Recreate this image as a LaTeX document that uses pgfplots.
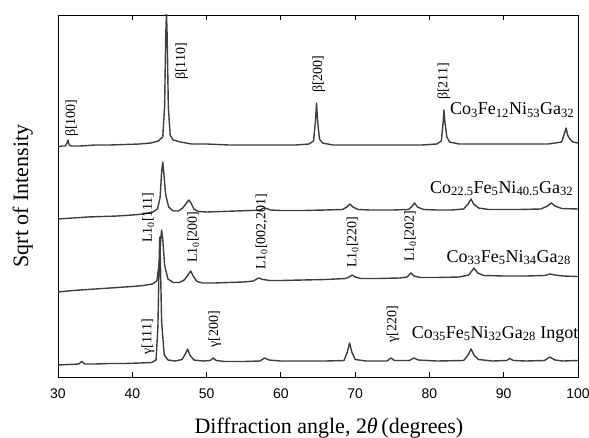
\documentclass[border=0pt]{standalone}
\usepackage{fontspec}
\setmainfont{Liberation Serif}
\newfontfamily\ticksfont{Liberation Sans}
\usepackage{pgfplots}
\pgfplotsset{compat=1.18}
\definecolor{trace}{RGB}{62,62,62}

\begin{document}
\begin{tikzpicture}
\path[use as bounding box] (0,0) rectangle (589pt,437pt);
\begin{axis}[
  at={(58pt,60pt)}, anchor=south west,
  width=520pt, height=362pt, scale only axis,
  xmin=30, xmax=100, ymin=0, ymax=362,
  xtick={30,40,...,100}, ytick=\empty,
  tick align=inside, major tick length=5pt,
  axis line style={line width=0.8pt},
  every tick/.style={black, line width=0.8pt},
  /pgf/number format/assume math mode=true,
  xticklabel style={font=\ticksfont\fontsize{14}{16}\selectfont, anchor=base, yshift=-21pt},
  xlabel={Diffraction angle, 2\textit{θ}\,(degrees)},
  xlabel style={font=\fontsize{22}{24}\selectfont, at={(axis description cs:0.521,0)}, anchor=base, yshift=-56pt},
  ylabel={Sqrt of Intensity},
  ylabel style={font=\fontsize{22}{24}\selectfont, at={(axis description cs:-0.0577,0.5)}, anchor=base},
  no markers,
  every axis plot post/.append style={trace, mark=none, line width=1.4pt, line join=round},
]
% Co3Fe12Ni53Ga32
\addplot coordinates {
(30,230) (30.5,231) (31.0,231) (31.2,234) (31.35,237) (31.5,232) (31.8,231) (33,231) (35,232)
(37,232) (39,232.5) (41,233) (42.5,234) (43.5,236) (44.1,240) (44.35,270) (44.5,340) (44.6,365)
(44.7,340) (44.85,270) (45.1,242) (45.5,237) (46.5,235) (48,233) (50,233) (53,232) (56,232)
(59,232) (62,232) (63.8,233) (64.4,236) (64.65,255) (64.8,274) (64.95,256) (65.2,238) (65.6,234)
(67,232) (70,232) (73,232) (76,232) (79,232) (81,233) (81.6,236) (81.85,255) (81.95,267)
(82.1,254) (82.35,240) (82.7,235) (84,233) (87,233) (90,233) (93,233) (96,233) (97.8,235)
(98.2,244) (98.4,249) (98.6,242) (98.9,238) (99.3,235) (100,234)
};
% Co22.5Fe5Ni40.5Ga32
\addplot coordinates {
(30,158) (32,159) (34,160) (36,160.5) (38,161) (40,162) (41.5,163) (42.8,165) (43.4,168)
(43.75,180) (43.95,205) (44.1,215) (44.25,203) (44.5,182) (44.9,170) (45.5,166) (46.2,166)
(46.8,169) (47.3,174) (47.6,177) (47.9,174) (48.3,168) (48.9,165.5) (50,165) (52,165.5) (54,166)
(56,166.5) (57.2,167) (57.7,169) (58.1,168.5) (58.6,167) (60,166.5) (63,166.5) (66,167)
(68.3,167.5) (68.9,170) (69.3,173) (69.7,170) (70.4,167.5) (72,167) (75,167) (77.2,167.5)
(77.7,171) (78.0,174) (78.4,170) (79.2,167.5) (81,167) (83,167) (84.6,168) (85.2,173) (85.6,178)
(85.95,173) (86.6,169) (88,167.5) (90,167.5) (92,167.5) (95,168) (95.9,171) (96.4,174) (96.9,171)
(97.8,168.5) (100,168)
};
% Co33Fe5Ni34Ga28
\addplot coordinates {
(30,85) (32,86.5) (34,87.5) (36,88.5) (38,89.5) (40,90.5) (41.5,91.5) (42.7,93) (43.3,96)
(43.65,115) (43.85,140) (43.95,147) (44.1,138) (44.35,112) (44.8,98) (45.5,94.5) (46.3,94.5)
(47,97) (47.5,102) (47.85,106) (48.2,101) (48.7,95.5) (49.5,94) (51,94) (53,94.5) (55,95)
(56.3,96) (57,99) (57.6,97.5) (58.5,96.5) (60,96.5) (63,97) (66,97.5) (68.7,98.5) (69.2,100)
(69.6,102) (70,100) (70.8,98.5) (73,98.5) (76,99) (77,100) (77.5,104) (77.9,101) (78.8,99.5)
(81,99.5) (84,100) (85.3,102) (86,109) (86.5,104) (87.3,101.5) (90,101) (93,101) (95.5,101.5)
(96.2,103) (96.9,102) (98,101) (100,100.5)
};
% Co35Fe5Ni32Ga28 ingot
\addplot coordinates {
(30,12) (31.5,12.5) (32.8,13) (33.2,15.5) (33.6,13) (35,13) (37,13.5) (39,13.5) (41,14)
(42.6,14.5) (43.2,17) (43.45,50) (43.6,110) (43.7,140) (43.8,110) (43.95,55) (44.3,22) (44.8,17)
(45.8,16) (46.7,17.5) (47.15,23) (47.45,28) (47.75,22) (48.3,17) (49.5,16) (50.5,16.5) (50.9,19)
(51.3,16.5) (52.5,15.5) (55,15.5) (57.2,16) (57.8,19) (58.4,17) (60,16) (63,16) (66,16)
(68.5,16.5) (68.95,25) (69.25,34) (69.55,25) (70,17.5) (71.5,16) (74.3,16) (74.8,19) (75.3,16.5)
(77.3,16.5) (77.9,19) (78.5,17) (81,16) (84.6,16.5) (85.2,22) (85.6,28) (86,22) (86.6,17.5)
(88.5,16) (90.4,16.5) (90.8,18.5) (91.3,16.5) (93,16) (95.5,16.5) (96.2,20) (96.9,17) (98,16)
(100,16.5)
};
% peak labels
\begin{scope}[every node/.style={rotate=90, anchor=west, inner sep=0pt, font=\fontsize{14}{16}\selectfont}]
\node at (axis cs:31.85,240) {β[100]};
\node at (axis cs:46.65,297) {β[110]};
\node at (axis cs:65.1,284) {β[200]};
\node at (axis cs:81.95,277) {β[211]};
\node at (axis cs:42.15,134) {L1\textsubscript{0}[111]};
\node at (axis cs:48.2,114) {L1\textsubscript{0}[200]};
\node at (axis cs:57.4,107) {L1\textsubscript{0}[002,201]};
\node at (axis cs:69.65,109) {L1\textsubscript{0}[220]};
\node at (axis cs:77.4,115) {L1\textsubscript{0}[202]};
\node at (axis cs:42.1,22) {γ[111]};
\node at (axis cs:51.1,29) {γ[200]};
\node at (axis cs:75.1,34) {γ[220]};
\end{scope}
\begin{scope}[every node/.style={anchor=base west, inner sep=0pt, font=\fontsize{18}{20}\selectfont}]
\node at (axis cs:82.76,262) {Co\textsubscript{3}Fe\textsubscript{12}Ni\textsubscript{53}Ga\textsubscript{32}};
\node at (axis cs:80.07,184) {Co\textsubscript{22.5}Fe\textsubscript{5}Ni\textsubscript{40.5}Ga\textsubscript{32}};
\node at (axis cs:82.3,115) {Co\textsubscript{33}Fe\textsubscript{5}Ni\textsubscript{34}Ga\textsubscript{28}};
\node at (axis cs:77.6,39) {Co\textsubscript{35}Fe\textsubscript{5}Ni\textsubscript{32}Ga\textsubscript{28} Ingot};
\end{scope}
\end{axis}
\end{tikzpicture}
\end{document}
